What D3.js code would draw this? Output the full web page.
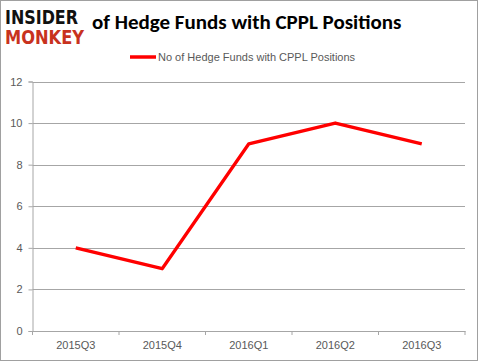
<!DOCTYPE html>
<html><head><meta charset="utf-8">
<script src="https://cdn.jsdelivr.net/npm/d3@7"></script>
<style>body{margin:0;background:#fff}svg{display:block;font-family:"Liberation Sans",Arial,sans-serif}</style>
</head><body><svg id="c" width="479" height="362"></svg>
<script>
const categories = ["2015Q3","2015Q4","2016Q1","2016Q2","2016Q3"];
const values = [4,3,9,10,9];
const yTicks = [0,2,4,6,8,10,12];
const seriesName = "No of Hedge Funds with CPPL Positions";
const titleText = "of Hedge Funds with CPPL Positions";

const svg = d3.select("#c");
svg.append("rect").attr("x",0.5).attr("y",0.5).attr("width",477).attr("height",360)
  .attr("fill","#fff").attr("stroke","#a0a0a0");

const m = {l:32.5, r:465, t:81.5, b:331};
const x = d3.scaleBand().domain(categories).range([m.l, m.r]);
const y = d3.scaleLinear().domain([0,12]).range([m.b, m.t]);

// gridlines
svg.append("g").selectAll("line").data(yTicks.filter(d=>d>0)).join("line")
  .attr("x1",m.l).attr("x2",m.r).attr("y1",d=>Math.round(y(d))+0.5).attr("y2",d=>Math.round(y(d))+0.5)
  .attr("stroke","#a6a6a6").attr("stroke-width",1);

// y axis
const ya = svg.append("g").attr("transform",`translate(${m.l},0)`)
  .call(d3.axisLeft(y).tickValues(yTicks).tickSize(4).tickPadding(6));
ya.select(".domain").attr("stroke","#a6a6a6");
ya.selectAll(".tick line").attr("stroke","#a6a6a6");
ya.selectAll("text").attr("fill","#595959").attr("font-size",11);

// x axis
const xa = svg.append("g").attr("transform",`translate(0,${m.b})`)
  .call(d3.axisBottom(x).tickSize(0).tickPadding(10));
xa.select(".domain").attr("stroke","#a6a6a6");
xa.selectAll("text").attr("fill","#595959").attr("font-size",11);
svg.append("g").selectAll("line").data(categories.concat(["__end"])).join("line")
  .attr("x1",(d,i)=>i<categories.length?x(d):m.r).attr("x2",(d,i)=>i<categories.length?x(d):m.r)
  .attr("y1",m.b).attr("y2",m.b+4).attr("stroke","#a6a6a6");

// line
const line = d3.line().x((d,i)=>x(categories[i])+x.bandwidth()/2).y(d=>y(d));
svg.append("path").datum(values).attr("d",line).attr("fill","none")
  .attr("stroke","#ff0000").attr("stroke-width",3.5).attr("stroke-linejoin","round");

// legend
svg.append("line").attr("x1",130).attr("x2",156).attr("y1",57).attr("y2",57)
  .attr("stroke","#ff0000").attr("stroke-width",3.5);
svg.append("text").attr("x",158).attr("y",61).attr("font-size",11).attr("fill","#595959").text(seriesName);

// title
svg.append("text").attr("x",92).attr("y",29).attr("font-size",21).attr("font-family","Carlito,'Liberation Sans',sans-serif")
  .attr("font-weight","bold").attr("fill","#000").text(titleText);

// logo
svg.append("text").attr("x",5).attr("y",24).attr("font-size",19).attr("font-weight","bold")
  .attr("font-family","'DejaVu Sans Condensed','Liberation Sans Narrow',sans-serif").attr("fill","#111")
  .attr("textLength",73).attr("lengthAdjust","spacingAndGlyphs").text("INSIDER");
svg.append("text").attr("x",5).attr("y",44).attr("font-size",19).attr("font-weight","bold")
  .attr("font-family","'DejaVu Sans Condensed','Liberation Sans Narrow',sans-serif").attr("fill","#c8321e")
  .attr("textLength",79).attr("lengthAdjust","spacingAndGlyphs").text("MONKEY");
</script></body></html>
